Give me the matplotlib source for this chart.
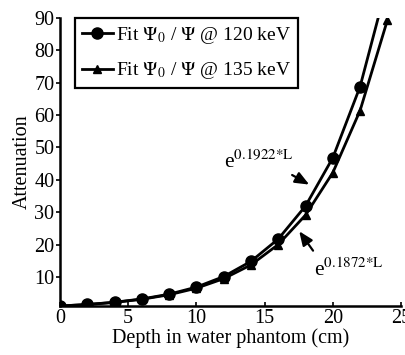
import matplotlib
matplotlib.use("Agg")
import matplotlib.pyplot as plt

# depth in water phantom (cm)
depth = [0, 2, 4, 6, 8, 10, 12, 14, 16, 18, 20, 22, 24]
# attenuation
att_120 = [1.0, 1.47, 2.16, 3.17, 4.65, 6.84, 10.1, 14.8, 21.7, 31.9, 46.8, 68.8, 100.8]
att_135 = [1.0, 1.45, 2.11, 3.08, 4.47, 6.50, 9.45, 13.7, 20.0, 29.1, 42.2, 61.4, 89.3]

xticks = [0, 5, 10, 15, 20, 25]
yticks = [10, 20, 30, 40, 50, 60, 70, 80, 90]

plt.rcParams['font.family'] = 'Liberation Serif'
plt.rcParams['mathtext.fontset'] = 'stix'
fs = 14.5

fig = plt.figure(figsize=(4.06, 3.55), dpi=100)
ax = fig.add_axes([60/406, 49/355, 341/406, 288/355])

ax.plot(depth, att_120, color='black', lw=2, marker='o', ms=8,
        label=r'Fit $\Psi_0$ / $\Psi$ @ 120 keV')
ax.plot(depth, att_135, color='black', lw=2, marker='^', ms=5.5,
        label=r'Fit $\Psi_0$ / $\Psi$ @ 135 keV')

ax.set_xlim(0, 25)
ax.set_ylim(1, 90)
ax.set_xticks(xticks)
ax.set_yticks(yticks)
ax.spines['top'].set_visible(False)
ax.spines['right'].set_visible(False)
for s in ('left', 'bottom'):
    ax.spines[s].set_linewidth(1.8)
ax.tick_params(direction='in', length=3, width=1.2, labelsize=fs, pad=2)
ax.tick_params(axis='y', direction='out', pad=1)

ax.set_xlabel('Depth in water phantom (cm)', fontsize=fs, labelpad=0)
ax.set_ylabel('Attenuation', fontsize=fs, labelpad=2)

ax.annotate('', xy=(18.45, 38.1), xytext=(16.84, 41.9),
            arrowprops=dict(arrowstyle='-|>,head_length=0.6,head_width=0.25',
                            color='black', lw=1.6, mutation_scale=14))
ax.annotate('', xy=(17.42, 24.8), xytext=(18.67, 17.4),
            arrowprops=dict(arrowstyle='-|>,head_length=0.6,head_width=0.25',
                            color='black', lw=1.6, mutation_scale=14))
ax.text(12.05, 43.7, r'e$^{0.1922{*}\mathrm{L}}$', fontsize=fs + 1, ha='left', va='baseline')
ax.text(18.65, 10.2, r'e$^{0.1872{*}\mathrm{L}}$', fontsize=fs + 1, ha='left', va='baseline')

leg = ax.legend(loc='upper left', bbox_to_anchor=(15/341, 1.0), borderaxespad=0,
                fancybox=False, framealpha=1, edgecolor='black', fontsize=14,
                handlelength=1.6, handletextpad=0.15, labelspacing=0.75, borderpad=0.35)
leg.get_frame().set_linewidth(1.6)

fig.savefig('out.png', dpi=100)
